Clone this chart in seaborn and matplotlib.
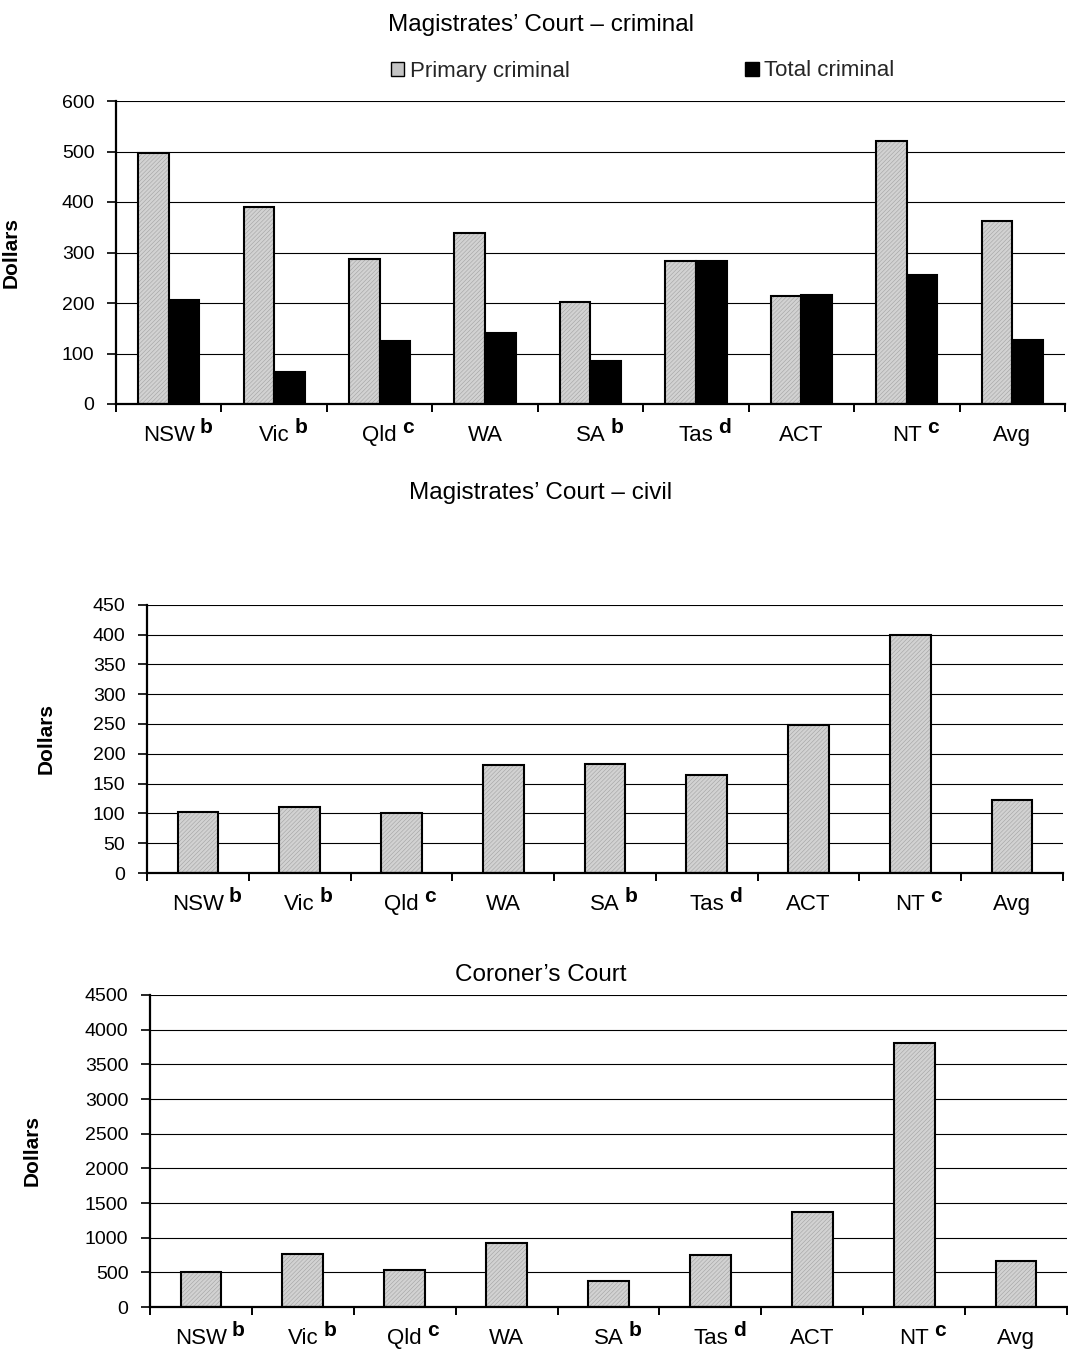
import matplotlib
matplotlib.use("Agg")
import matplotlib.pyplot as plt
from matplotlib.patches import Patch, Rectangle
from matplotlib.colors import to_rgba
import numpy as np
import pandas as pd
import seaborn as sns

# Cost per finalisation by jurisdiction (dollars)
jurisdictions = ["NSW", "Vic", "Qld", "WA", "SA", "Tas", "ACT", "NT", "Avg"]
footnotes = ["b", "b", "c", "", "b", "d", "", "c", ""]

series_names = ["Primary criminal", "Total criminal"]
criminal_primary = [497, 391, 288, 339, 202, 283, 214, 520, 362]
criminal_total = [205, 63, 125, 141, 86, 284, 215, 255, 127]

civil = [102, 111, 100, 181, 183, 164, 248, 399, 122]

coroner = [509, 760, 534, 923, 375, 755, 1376, 3810, 659]

GREY = "#d2d2d2"
HATCH_GREY = "#a2a2a2"

sns.set_theme(style="white")
plt.rcParams["font.family"] = ["Liberation Sans", "DejaVu Sans"]
plt.rcParams["hatch.linewidth"] = 0.4

W, H = 1068, 1351
fig = plt.figure(figsize=(W / 100, H / 100), dpi=100)

ax1 = fig.add_axes([116 / W, 1 - 404 / H, 949 / W, 303 / H])
ax2 = fig.add_axes([147 / W, 1 - 873 / H, 916 / W, 268.3 / H])
ax3 = fig.add_axes([150 / W, 1 - 1307 / H, 917 / W, 312 / H])

# --- Magistrates' court, criminal: grouped bars ---
df_crim = pd.DataFrame({
    "Jurisdiction": jurisdictions * 2,
    "Series": [series_names[0]] * len(jurisdictions) + [series_names[1]] * len(jurisdictions),
    "Dollars": criminal_primary + criminal_total,
})
sns.barplot(data=df_crim, x="Jurisdiction", y="Dollars", hue="Series",
            order=jurisdictions, hue_order=series_names,
            palette={series_names[0]: GREY, series_names[1]: "black"},
            width=0.58, gap=0, errorbar=None, edgecolor="black",
            linewidth=1.5, legend=False, ax=ax1)

# --- Magistrates' court, civil ---
df_civ = pd.DataFrame({"Jurisdiction": jurisdictions, "Dollars": civil})
sns.barplot(data=df_civ, x="Jurisdiction", y="Dollars", order=jurisdictions,
            color=GREY, saturation=1, width=0.40, errorbar=None,
            edgecolor="black", linewidth=1.5, ax=ax2)

# --- Coroner's court ---
df_cor = pd.DataFrame({"Jurisdiction": jurisdictions, "Dollars": coroner})
sns.barplot(data=df_cor, x="Jurisdiction", y="Dollars", order=jurisdictions,
            color=GREY, saturation=1, width=0.40, errorbar=None,
            edgecolor="black", linewidth=1.5, ax=ax3)


def stipple_grey_bars(ax):
    """Give the grey bars a fine diagonal texture with a black outline."""
    grey = np.array(to_rgba(GREY))
    for p in list(ax.patches):
        if np.allclose(np.array(p.get_facecolor()), grey, atol=0.02):
            outline = Rectangle(p.get_xy(), p.get_width(), p.get_height(),
                                fill=False, edgecolor="black", linewidth=1.5,
                                zorder=p.get_zorder() + 0.01)
            p.set_hatch("////////")
            p.set_edgecolor(HATCH_GREY)
            p.set_linewidth(0)
            ax.add_patch(outline)


def style_axis(ax, ymax, step, ylabel_x):
    ax.set_xlim(-0.5, len(jurisdictions) - 0.5)
    ax.set_ylim(0, ymax)
    ax.set_yticks(np.arange(0, ymax + 1, step))
    ax.yaxis.grid(True, color="black", linewidth=0.8)
    ax.xaxis.grid(False)
    ax.set_axisbelow(True)
    for s in ("top", "right"):
        ax.spines[s].set_visible(False)
    for s in ("left", "bottom"):
        ax.spines[s].set_color("black")
        ax.spines[s].set_linewidth(1.6)
    ax.tick_params(axis="y", which="major", left=True, direction="out",
                   length=6.5, width=1.2, color="black", pad=9,
                   labelsize=14, labelcolor="black")
    ax.set_xticks(np.arange(-0.5, len(jurisdictions), 1), minor=True)
    ax.tick_params(axis="x", which="major", bottom=False, length=0, pad=15,
                   labelsize=16, labelcolor="black")
    ax.tick_params(axis="x", which="minor", bottom=True, direction="out",
                   length=6, width=1.4, color="black")
    ax.set_xlabel("")
    ax.set_ylabel("Dollars", fontsize=15, fontweight="bold", color="black")
    ax.yaxis.set_label_coords(ylabel_x, 0.5)


for ax in (ax1, ax2, ax3):
    stipple_grey_bars(ax)

style_axis(ax1, 600, 100, -0.101)
style_axis(ax2, 450, 50, -0.100)
style_axis(ax3, 4500, 500, -0.118)

# Chart titles
title_kw = dict(ha="center", va="center", fontsize=17.5, color="black")
fig.text(541 / W, 1 - 25 / H, "Magistrates\u2019 Court \u2013 criminal", **title_kw)
fig.text(541 / W, 1 - 493 / H, "Magistrates\u2019 Court \u2013 civil", **title_kw)
fig.text(541 / W, 1 - 975 / H, "Coroner\u2019s Court", **title_kw)

# Legend for the criminal chart
handles = [Patch(facecolor="#c4c4c4", edgecolor="black", linewidth=1.0),
           Patch(facecolor="black", edgecolor="black", linewidth=1.0)]
fig.legend(handles=handles, labels=series_names, loc="center left",
           bbox_to_anchor=(391 / W, 1 - 71 / H), ncol=2, frameon=False,
           fontsize=16, handlelength=0.6, handleheight=0.6,
           handletextpad=0.25, columnspacing=7.9, borderpad=0,
           borderaxespad=0)

# Bold superscript footnote markers after the jurisdiction names
fig.canvas.draw()
renderer = fig.canvas.get_renderer()
for ax in (ax1, ax2, ax3):
    for lbl, note in zip(ax.get_xticklabels(), footnotes):
        if not note:
            continue
        bb = lbl.get_window_extent(renderer)
        fig.text((bb.x1 + 5) / W, (bb.y0 + 9) / H, note, ha="left",
                 va="bottom", fontsize=15, fontweight="bold", color="black")

fig.savefig("out.png", dpi=100)
